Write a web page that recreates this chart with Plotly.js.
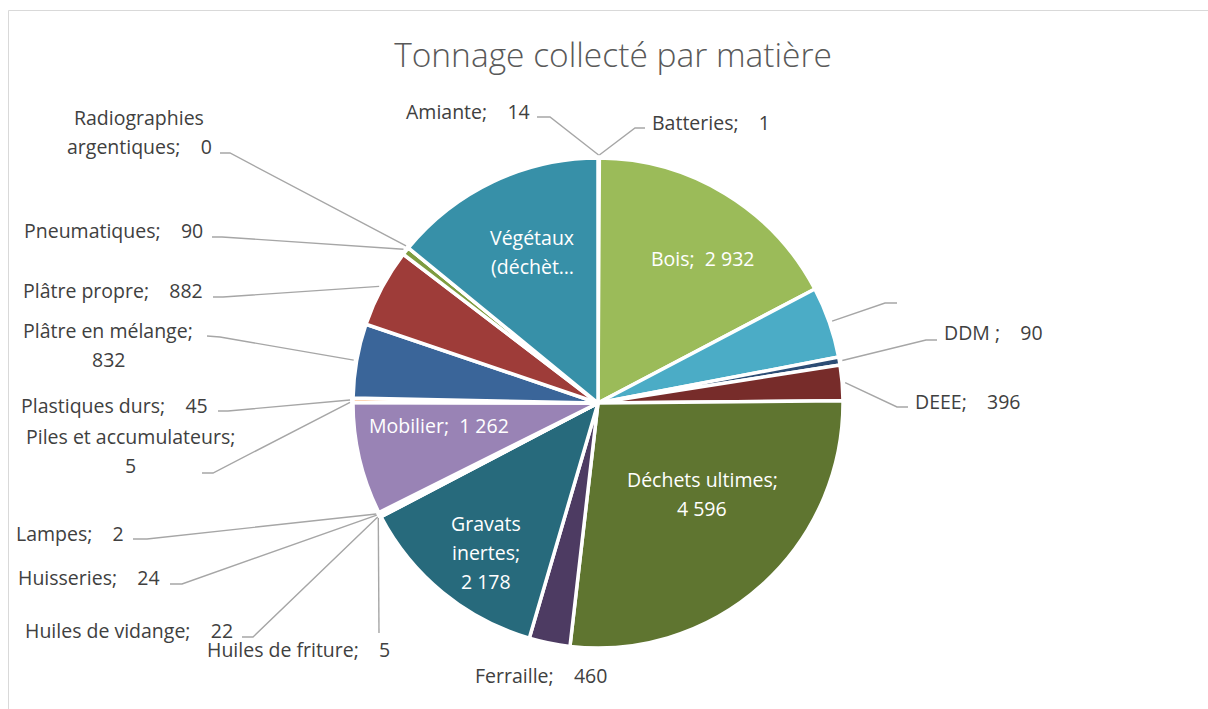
<!DOCTYPE html>
<html><head><meta charset="utf-8">
<script src="https://cdn.plot.ly/plotly-3.0.1.min.js"></script>
<style>html,body{margin:0;padding:0;background:#fff}#chart{width:1208px;height:709px}</style>
</head><body><div id="chart"></div>
<script>
// ---------- DATA ----------
const chartTitle = "Tonnage collecté par matière";
const categories = ["Amiante","Batteries","Bois","","DDM ","DEEE","Déchets ultimes","Ferraille","Gravats inertes",
  "Huiles de friture","Huiles de vidange","Huisseries","Lampes","Mobilier","Piles et accumulateurs","Plastiques durs",
  "Plâtre en mélange","Plâtre propre","Pneumatiques","Radiographies argentiques","Végétaux (déchèt…"];
const values = [14,1,2932,800,90,396,4596,460,2178,5,22,24,2,1262,5,45,832,882,90,0,2400];

// ---------- STYLE / LAYOUT ----------
const colors = ["#4F81BD","#C0504D","#9BBB59","#4BACC6","#2C4D75","#772C2A","#5F7530","#4D3B62","#276A7C",
  "#B65708","#729ACA","#CD7371","#AFC97A","#9983B5","#6FBDD1","#F9AB6B","#3A6599","#9E3C39","#7E9C40","#664F82","#3790A8"];
const W = 1208, H = 709, CX = 598, CY = 403, R = 245;
const FONT = "'Open Sans', Lato, sans-serif";
const FSIZE = 19.5;
const LINE_GAP = 29;
// label placement (pixels): text anchor + label-side leader points
const labelPos = [
  {x:532,y:112,a:'right',line:[[537,117],[550,117]]},
  {x:650,y:123,a:'left',line:[[645,128],[635,128]]},
  {x:702,y:258,a:'center',inside:true},
  {x:900,y:303,a:'left',line:[[897,303],[885,303]]},
  {x:942,y:333,a:'left',line:[[937,340],[926,340]]},
  {x:913,y:401,a:'left',line:[[908,407],[897,407]]},
  {x:702,y:494,a:'center',inside:true,brVal:true},
  {x:541,y:675,a:'center'},
  {x:486,y:552,a:'center',inside:true,brName:1,brVal:true},
  {x:205,y:649,a:'left',line:[[379,633]]},
  {x:235,y:630,a:'right',line:[[242,637],[253,637]]},
  {x:162,y:577,a:'right',line:[[170,584],[182,584]]},
  {x:126,y:533,a:'right',line:[[133,539],[147,539]]},
  {x:439,y:426,a:'center',inside:true},
  {x:130,y:451,a:'center',brVal:true,line:[[202,473],[213,473]]},
  {x:210,y:405,a:'right',line:[[218,411],[228,411]]},
  {x:108,y:345,a:'center',brVal:true,line:[[207,336],[220,337]]},
  {x:205,y:290,a:'right',line:[[213,297],[223,297]]},
  {x:205,y:231,a:'right',line:[[212,237],[222,237]]},
  {x:139,y:132,a:'center',brName:1,line:[[220,153],[230,153]]},
  {x:532,y:252,a:'center',inside:true,brName:1,noVal:true}
];

function fmt(v){ return String(v).replace(/\B(?=(\d{3})+(?!\d))/g, "\u00A0"); }
const px = x => x / W, py = y => 1 - y / H;

const total = values.reduce((s,v)=>s+v,0);
let cum = 0;
const annotations = [], shapes = [];
categories.forEach((name, i) => {
  const start = cum / total * 2 * Math.PI;
  cum += values[i];
  const end = cum / total * 2 * Math.PI;
  const mid = (start + end) / 2;
  const lp = labelPos[i];
  let lines;
  if (name === "") lines = [];
  else {
    const words = name.split(" ");
    const nameLines = lp.brName ? [words.slice(0, lp.brName).join(" "), words.slice(lp.brName).join(" ")] : [name];
    if (lp.noVal) lines = nameLines;
    else {
      nameLines[nameLines.length-1] += ";";
      const v = fmt(values[i]);
      if (lp.brVal) lines = nameLines.concat([v]);
      else { nameLines[nameLines.length-1] += (lp.inside ? "\u00A0\u00A0" : "\u00A0\u00A0\u00A0\u00A0") + v; lines = nameLines; }
    }
  }
  const n = lines.length;
  lines.forEach((t, k) => {
    annotations.push({
      text: t, showarrow: false, xref: 'paper', yref: 'paper',
      x: px(lp.x), y: py(lp.y + (k - (n-1)/2) * LINE_GAP),
      xanchor: lp.a, yanchor: 'middle',
      font: {family: FONT, size: FSIZE, color: lp.inside ? '#FFFFFF' : '#404040'}
    });
  });
  if (lp.line) {
    const ax = CX + (R + 3) * Math.sin(mid), ay = CY - (R + 3) * Math.cos(mid);
    const pts = lp.line.concat([[ax, ay]]);
    const d = pts.map((p, k) => (k ? 'L' : 'M') + px(p[0]).toFixed(5) + ',' + py(p[1]).toFixed(5)).join(' ');
    shapes.push({type:'path', xref:'paper', yref:'paper', path: d, line:{color:'#A6A6A6', width:1.4}});
  }
});
// chart frame
shapes.push({type:'rect', xref:'paper', yref:'paper', x0: px(8.5), x1: 1.02, y0: -0.02, y1: py(10.5),
  line:{color:'#D9D9D9', width:1}, fillcolor:'rgba(0,0,0,0)'});

const trace = {
  type: 'pie', labels: categories.map((c,i)=> c === "" ? " " : c), values: values,
  sort: false, direction: 'clockwise', rotation: 0,
  marker: {colors: colors, line: {color: '#FFFFFF', width: 3.5}},
  textinfo: 'none', hoverinfo: 'none', showlegend: false,
  domain: {x: [px(CX - R), px(CX + R)], y: [py(CY + R), py(CY - R)]}
};

const layout = {
  width: W, height: H, margin: {l:0, r:0, t:0, b:0},
  paper_bgcolor: '#FFFFFF', plot_bgcolor: '#FFFFFF', showlegend: false,
  title: {text: chartTitle, x: px(613), y: py(55), xanchor: 'center', yanchor: 'middle',
    font: {family: FONT, size: 33.5, weight: 300, color: '#595959'}},
  annotations: annotations, shapes: shapes
};
Plotly.newPlot('chart', [trace], layout, {staticPlot: true, displayModeBar: false});
</script></body></html>
